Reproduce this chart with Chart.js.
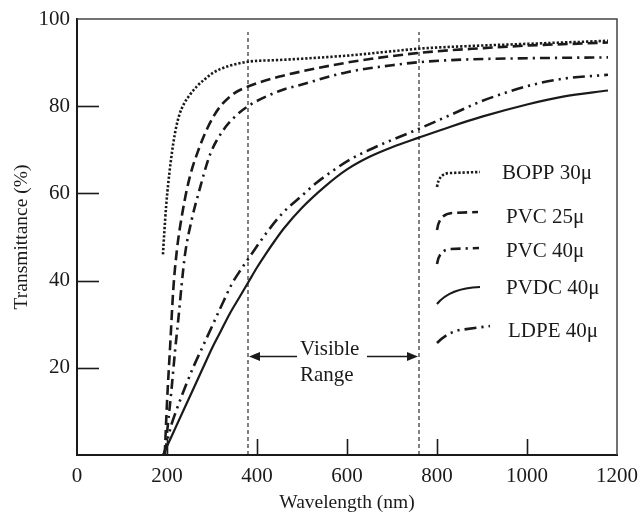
<!DOCTYPE html>
<html><head><meta charset="utf-8">
<script src="https://cdn.jsdelivr.net/npm/chart.js@4"></script>
<style>html,body{margin:0;padding:0;background:#fff}#wrap{width:644px;height:515px}</style>
</head><body><div id="wrap"><canvas id="c" width="644" height="515"></canvas></div>
<script>
// ---- data (wavelength nm, transmittance %) ----
const xTicks = [0, 200, 400, 600, 800, 1000, 1200];
const yTicks = [0, 20, 40, 60, 80, 100];
const seriesNames = ['BOPP 30μ', 'PVC 25μ', 'PVC 40μ', 'PVDC 40μ', 'LDPE 40μ'];

const boppWl = [191,194,198,203,208,214,220,228,238,250,265,284,300,318,340,380,450,500,600,700,760,850,1000,1180];
const boppT  = [46,51,57,62.5,67,71.5,75,78.2,80.6,82.5,84.4,86.2,87.5,88.5,89.3,90.2,90.6,90.9,91.6,92.6,93.2,93.7,94.3,95];

const pvc25Wl = [195,200,207,214,222,235,250,270,290,315,350,380,450,500,600,700,800,900,1000,1100,1180];
const pvc25T  = [0,12,25,38,47,56,63.5,70,75,79.5,83,84.5,86.8,88,90,91.5,92.6,93.3,93.9,94.3,94.6];

const pvc40Wl = [195,200,210,218,226,233,240,255,270,296,325,350,380,450,500,600,700,760,860,1000,1180];
const pvc40T  = [0,5,15,24,32,39.5,46,54,60,69,74.5,77.5,80,83.5,85,87.8,89.4,90.1,90.7,91,91.2];

const pvdcWl = [191,200,220,240,260,280,300,320,340,360,380,400,420,440,460,500,550,600,650,700,760,830,900,1000,1080,1180];
const pvdcT  = [0,2,6.5,11,15.5,20,24.5,28.5,32.5,36,39.5,43,46.2,49.2,52,56.7,61.5,65.5,68.4,70.6,72.8,75.3,77.6,80.4,82.2,83.6];

const ldpeWl = [193,200,210,220,240,260,280,300,320,344,364,384,420,458,500,533,570,607,650,680,755,830,900,950,1000,1080,1180];
const ldpeT  = [0,3,7,10,15.5,20.5,25,29.5,34,39.2,42.5,45.5,50.8,55.6,59.5,62.5,65.3,67.8,70,71.4,74.6,78,81.2,83,84.6,86.3,87.2];

const visibleBounds = [380, 760];   // nm
const visibleLineTop = 97;          // %
const visibleArrowT = 22.8;         // %
const visibleLabel = ['Visible', 'Range'];
const xTitle = 'Wavelength (nm)';
const yTitle = 'Transmittance (%)';

// ---- build ----
const pts = (xs, ys) => xs.map((x, i) => ({x, y: ys[i]}));
const FONT = '"Liberation Serif", "DejaVu Serif", serif';
const INK = '#1a1a1a';

const styles = [
  {dash: [2.3, 1.9], width: 2.6},
  {dash: [10, 5], width: 2.6},
  {dash: [10, 5, 2.2, 5], width: 2.6},
  {dash: [], width: 2.2},
  {dash: [12, 5, 2.2, 5, 2.2, 5], width: 2.6},
];
const raw = [[boppWl, boppT], [pvc25Wl, pvc25T], [pvc40Wl, pvc40T], [pvdcWl, pvdcT], [ldpeWl, ldpeT]];

const datasets = raw.map((r, i) => ({
  label: seriesNames[i],
  data: pts(r[0], r[1]),
  borderColor: INK,
  borderWidth: styles[i].width,
  borderDash: styles[i].dash,
  borderCapStyle: 'butt',
  pointRadius: 0,
  cubicInterpolationMode: 'monotone',
  fill: false,
}));
visibleBounds.forEach(b => datasets.push({
  label: 'vis' + b,
  data: [{x: b, y: 0}, {x: b, y: visibleLineTop}],
  borderColor: INK, borderWidth: 1.1, borderDash: [4, 3], pointRadius: 0, fill: false,
}));

const decor = {
  id: 'decor',
  beforeDatasetsDraw(chart) {
    const {ctx, chartArea: a, scales: {x, y}} = chart;
    ctx.save();
    ctx.strokeStyle = INK; ctx.lineWidth = 1.6;
    xTicks.slice(1, -1).forEach(v => {
      const px = Math.round(x.getPixelForValue(v)) + 0.5;
      ctx.beginPath(); ctx.moveTo(px, a.bottom); ctx.lineTo(px, a.bottom - 16); ctx.stroke();
    });
    yTicks.slice(1, -1).forEach(v => {
      const py = Math.round(y.getPixelForValue(v)) + 0.5;
      ctx.beginPath(); ctx.moveTo(a.left, py); ctx.lineTo(a.left + 22, py); ctx.stroke();
    });
    ctx.strokeStyle = '#444'; ctx.lineWidth = 1.5;
    ctx.beginPath(); ctx.moveTo(a.left, a.top); ctx.lineTo(a.right, a.top); ctx.lineTo(a.right, a.bottom); ctx.stroke();
    ctx.restore();
  },
  afterDraw(chart) {
    const {ctx, chartArea: a, scales: {x, y}} = chart;
    ctx.save();
    // visible range arrows
    const yA = Math.round(y.getPixelForValue(visibleArrowT)) + 0.5;
    const xl = x.getPixelForValue(visibleBounds[0]) + 1;
    const xr = x.getPixelForValue(visibleBounds[1]) - 1;
    ctx.strokeStyle = INK; ctx.fillStyle = INK; ctx.lineWidth = 1.4;
    ctx.beginPath(); ctx.moveTo(xl + 8, yA); ctx.lineTo(297, yA); ctx.stroke();
    ctx.beginPath(); ctx.moveTo(367, yA); ctx.lineTo(xr - 8, yA); ctx.stroke();
    ctx.beginPath(); ctx.moveTo(xl, yA); ctx.lineTo(xl + 11, yA - 4.5); ctx.lineTo(xl + 11, yA + 4.5); ctx.closePath(); ctx.fill();
    ctx.beginPath(); ctx.moveTo(xr, yA); ctx.lineTo(xr - 11, yA - 4.5); ctx.lineTo(xr - 11, yA + 4.5); ctx.closePath(); ctx.fill();
    ctx.font = '21px ' + FONT; ctx.textAlign = 'left'; ctx.textBaseline = 'alphabetic';
    ctx.fillText(visibleLabel[0], 300, 355);
    ctx.fillText(visibleLabel[1], 300, 381);

    // legend
    const L = [
      {t: [502, 179], draw: c => { c.moveTo(437, 187); c.quadraticCurveTo(439, 173, 450, 173); c.lineTo(480, 172); }},
      {t: [506, 223], draw: c => { c.moveTo(437, 230); c.quadraticCurveTo(439, 214, 452, 213); c.lineTo(478, 212); }},
      {t: [506, 257], draw: c => { c.moveTo(437, 264); c.quadraticCurveTo(439, 250, 450, 249); c.lineTo(479, 248); }},
      {t: [506, 294], draw: c => { c.moveTo(437, 304); c.quadraticCurveTo(450, 288, 480, 287); }},
      {t: [508, 337], draw: c => { c.moveTo(437, 343); c.quadraticCurveTo(448, 332, 460, 330); c.lineTo(490, 326); }},
    ];
    L.forEach((l, i) => {
      ctx.save();
      ctx.strokeStyle = INK; ctx.lineWidth = styles[i].width; ctx.lineCap = 'butt';
      ctx.setLineDash(styles[i].dash);
      ctx.beginPath(); l.draw(ctx); ctx.stroke();
      ctx.restore();
      ctx.fillStyle = INK; ctx.font = '21px ' + FONT;
      ctx.fillText(seriesNames[i], l.t[0], l.t[1]);
    });
    ctx.restore();
  }
};

new Chart(document.getElementById('c'), {
  type: 'line',
  data: {datasets},
  plugins: [decor],
  options: {
    responsive: false, animation: false, devicePixelRatio: 1,
    layout: {padding: {top: 19, right: 27, left: 0, bottom: 0}},
    plugins: {legend: {display: false}, tooltip: {enabled: false}},
    scales: {
      x: {
        type: 'linear', min: 0, max: 1200,
        afterBuildTicks: s => { s.ticks = xTicks.map(v => ({value: v})); },
        afterFit: s => { s.height = 60; s.paddingRight = 10; s.paddingLeft = 0; },
        ticks: {color: INK, font: {family: FONT, size: 21}, padding: 9, maxRotation: 0, callback: v => String(v)},
        grid: {display: false, drawTicks: false},
        border: {display: true, color: INK, width: 2},
        title: {display: true, text: xTitle, color: INK, font: {family: FONT, size: 19.5}, padding: {top: 0, bottom: 0}},
      },
      y: {
        type: 'linear', min: 0, max: 100,
        afterBuildTicks: s => { s.ticks = yTicks.map(v => ({value: v})); },
        afterFit: s => { s.width = 77; s.paddingTop = 5; s.paddingBottom = 0; },
        ticks: {color: INK, font: {family: FONT, size: 21}, padding: 7, callback: v => v === 0 ? '' : String(v)},
        grid: {display: false, drawTicks: false},
        border: {display: true, color: INK, width: 2},
        title: {display: true, text: yTitle, color: INK, font: {family: FONT, size: 19.5}, padding: {top: 10, bottom: 0}},
      }
    }
  }
});
</script></body></html>
